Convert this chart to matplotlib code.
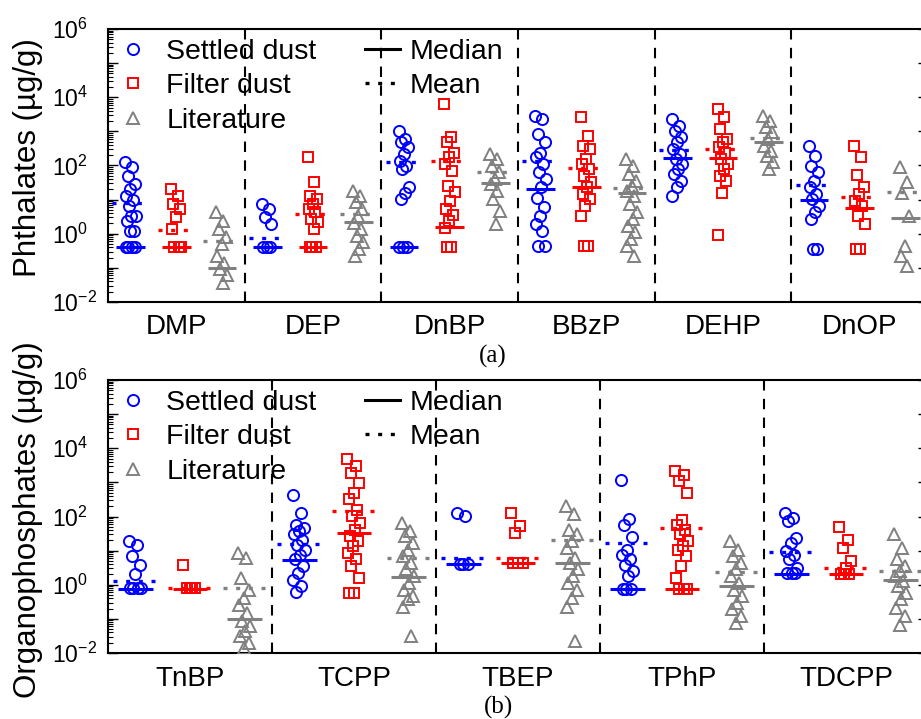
import numpy as np
import matplotlib
matplotlib.use("Agg")
import matplotlib.pyplot as plt
from matplotlib.lines import Line2D
from matplotlib.ticker import FixedLocator, FuncFormatter

plt.rcParams['font.family'] = ['Liberation Sans', 'DejaVu Sans']
plt.rcParams['mathtext.fontset'] = 'custom'
plt.rcParams['mathtext.rm'] = 'Liberation Sans'
plt.rcParams['mathtext.it'] = 'Liberation Sans:italic'
plt.rcParams['mathtext.default'] = 'regular'

# ---------------- Phthalates (µg/g) ----------------
pht_names = ["DMP", "DEP", "DnBP", "BBzP", "DEHP", "DnOP"]

pht_settled = [
    [123, 88, 50, 29, 20, 13, 10, 6.6, 3.4, 3.4, 2.4, 1.2, 1.2, 0.4, 0.4, 0.4, 0.4],
    [7.4, 5.3, 3.0, 1.9, 0.4, 0.4, 0.4],
    [1040, 590, 475, 340, 215, 138, 98, 78, 23, 16, 10.4, 0.4, 0.4, 0.4],
    [2900, 2300, 830, 475, 240, 173, 110, 63, 40, 23, 11.5, 5.9, 3.4, 1.9, 1.2, 0.45, 0.45],
    [2300, 1450, 1040, 665, 475, 300, 215, 155, 110, 78, 56, 36, 23, 13],
    [380, 195, 98, 63, 36, 23, 14.5, 10.4, 6.6, 4.2, 2.7, 0.35, 0.35],
]
pht_filter = [
    [20, 13, 7.4, 5.3, 3.0, 1.4, 0.4, 0.4, 0.4],
    [173, 33, 13, 10.4, 7.4, 5.3, 4.2, 2.7, 2.2, 1.4, 0.4, 0.4, 0.4],
    [6300, 665, 475, 240, 173, 110, 70, 25, 17, 9.3, 5.3, 3.5, 2.4, 1.5, 0.4, 0.4],
    [2560, 745, 380, 300, 155, 110, 78, 50, 32, 23, 14.5, 10.4, 6.6, 3.4, 0.45, 0.45],
    [4500, 2560, 1170, 590, 475, 340, 240, 155, 110, 78, 50, 36, 16, 0.93],
    [380, 173, 52, 23, 14.5, 9.3, 6.6, 3.4, 1.9, 0.35, 0.35],
]
pht_literature = [
    [4.2, 2.4, 1.4, 0.78, 0.5, 0.23, 0.14, 0.09, 0.06, 0.037],
    [18, 13, 8.3, 5.3, 3.4, 2.1, 1.4, 0.87, 0.56, 0.35, 0.23],
    [215, 155, 98, 63, 40, 29, 18, 10.4, 4.7, 1.9],
    [155, 98, 56, 36, 25, 18, 13, 7.4, 4.2, 2.7, 1.7, 1.1, 0.7, 0.45, 0.23],
    [2900, 2050, 1300, 930, 590, 380, 270, 195, 123, 78],
    [88, 32, 16, 3.4, 0.45, 0.23, 0.115],
]
pht_settled_median = [0.42, 0.42, 0.42, 21, 162, 10]
pht_settled_mean = [8.0, 0.73, 123, 132, 282, 26]
pht_filter_median = [0.42, 0.42, 1.6, 24, 162, 5.5]
pht_filter_mean = [1.3, 3.8, 138, 84, 300, 12]
pht_literature_median = [0.10, 2.2, 30, 16, 500, 2.9]
pht_literature_mean = [0.6, 3.8, 63, 22, 620, 17]

# ---------------- Organophosphates (µg/g) ----------------
opfr_names = ["TnBP", "TCPP", "TBEP", "TPhP", "TDCPP"]

opfr_settled = [
    [19, 15, 6.9, 3.9, 2.0, 0.78, 0.78, 0.78, 0.78],
    [440, 128, 58, 46, 37, 30, 21, 15, 10.7, 7.6, 5.5, 3.5, 2.2, 1.4, 0.9, 0.6],
    [128, 102, 4.1, 4.1, 4.1],
    [1200, 85, 55, 25, 10.7, 7.6, 5.5, 3.9, 2.5, 1.8, 0.77, 0.77, 0.77],
    [128, 91, 73, 24, 17, 9.6, 7.6, 5.5, 3.1, 2.2, 2.2, 2.2],
]
opfr_filter = [
    [3.9, 0.78, 0.78, 0.78, 0.78],
    [4700, 2970, 1900, 970, 490, 315, 160, 102, 65, 41, 26, 19, 13.5, 8.6, 5.5, 3.5, 1.6, 0.58, 0.58],
    [128, 52, 32, 4.2, 4.2, 4.2],
    [2140, 1700, 1090, 490, 81, 58, 41, 30, 19, 13.5, 10.7, 6.9, 3.5, 1.6, 0.77, 0.77, 0.77],
    [49, 21, 12, 4.9, 3.1, 2.1, 2.1, 2.1],
]
opfr_literature = [
    [8.6, 6.1, 1.6, 0.72, 0.41, 0.26, 0.15, 0.085, 0.06, 0.044, 0.031, 0.02, 0.014],
    [65, 37, 26, 17, 10.7, 6.9, 4.4, 2.8, 1.8, 1.1, 0.72, 0.46, 0.37, 0.23, 0.031],
    [200, 115, 41, 30, 19, 12, 6.1, 4.4, 2.8, 1.8, 1.1, 0.72, 0.41, 0.23, 0.022],
    [19, 10.7, 6.9, 4.4, 2.8, 1.8, 1.1, 0.72, 0.46, 0.29, 0.19, 0.12, 0.076],
    [30, 12, 5.5, 3.5, 2.5, 1.8, 1.27, 0.9, 0.58, 0.37, 0.21, 0.12, 0.068],
]
opfr_settled_median = [0.76, 5.2, 4.1, 0.77, 2.1]
opfr_settled_mean = [1.27, 16, 6.1, 17, 9.0]
opfr_filter_median = [0.76, 33, 4.2, 0.77, 2.1]
opfr_filter_mean = [0.79, 149, 6.0, 46, 3.0]
opfr_literature_median = [0.10, 1.7, 4.2, 0.95, 1.4]
opfr_literature_mean = [0.79, 5.9, 21, 2.4, 2.6]

# ---------------- styling ----------------
BLUE, RED, GRAY = (0, 0, 1), (1, 0, 0), (0.5, 0.5, 0.5)
series_style = [
    dict(marker='o', color=BLUE, ms=8.0, label='Settled dust'),
    dict(marker='s', color=RED, ms=6.6, label='Filter dust'),
    dict(marker='^', color=GRAY, ms=8.4, label='Literature'),
]
col_offset = [-1 / 3, 0.0, 1 / 3]
MEAN_LS = (0, (1.2, 2.6))

W, H = 921, 719
fig = plt.figure(figsize=(W / 100, H / 100), dpi=100)


def px_axes(left, top, right, bottom):
    return fig.add_axes([left / W, 1 - bottom / H, (right - left) / W, (bottom - top) / H])


def spread(n):
    # deterministic side-by-side spread for points within one column
    k = np.arange(n)
    return 0.04 * (((k * 0.618034) % 1.0) * 2 - 1)


def decade_label(v, pos):
    e = int(round(np.log10(v)))
    return r'$\mathdefault{10^{%d}}$' % e if e % 2 == 0 else ''


def draw_panel(ax, names, cols, medians, means):
    n = len(names)
    for j, (data, med, mean, st) in enumerate(zip(cols, medians, means, series_style)):
        for g in range(n):
            x0 = g + col_offset[j]
            vals = np.asarray(data[g], dtype=float)
            ax.plot(x0 + spread(len(vals)), vals, ls='none', marker=st['marker'],
                    mfc='none', mec=st['color'], ms=st['ms'], mew=1.4, zorder=3)
            ax.plot([x0 - 0.105, x0 + 0.105], [med[g], med[g]], color=st['color'],
                    lw=2.2, solid_capstyle='butt', zorder=4)
            ax.plot([x0 - 0.135, x0 + 0.135], [mean[g], mean[g]], color=st['color'],
                    lw=2.4, ls=MEAN_LS, dash_capstyle='butt', zorder=4)
    for g in range(1, n):
        ax.axvline(g - 0.5, color='k', lw=1.5, ls=(0, (5, 4)), zorder=2)

    ax.set_yscale('log')
    ax.set_ylim(1e-2, 1e6)
    ax.set_xlim(-0.5, n - 0.5)
    ax.yaxis.set_major_locator(FixedLocator([10.0 ** e for e in range(-2, 7)]))
    ax.yaxis.set_major_formatter(FuncFormatter(decade_label))
    ax.yaxis.set_minor_locator(FixedLocator(
        [m * 10.0 ** e for e in range(-2, 6) for m in range(2, 10)]))
    ax.tick_params(axis='y', which='both', direction='in', left=True, right=True,
                   labelsize=16.5, pad=40)
    ax.tick_params(axis='y', which='major', length=7.5, width=1.0)
    ax.tick_params(axis='y', which='minor', length=3.6, width=0.8)
    for lab in ax.get_yticklabels():
        lab.set_horizontalalignment('left')
    ax.set_xticks(range(n))
    ax.set_xticklabels(names, fontsize=20)
    ax.tick_params(axis='x', length=0, pad=9)
    for sp in ax.spines.values():
        sp.set_linewidth(1.5)

    marker_handles = [Line2D([], [], ls='none', marker=st['marker'], mfc='none',
                             mec=st['color'], ms=st['ms'], mew=1.4) for st in series_style]
    leg1 = ax.legend(marker_handles, [st['label'] for st in series_style],
                     loc='upper left', bbox_to_anchor=(0.013, 0.965), frameon=False,
                     fontsize=20.5, handlelength=1.0, handletextpad=0.68,
                     labelspacing=0.31, borderpad=0, borderaxespad=0)
    ax.add_artist(leg1)
    line_handles = [Line2D([], [], color='k', lw=2.2),
                    Line2D([], [], color='k', lw=2.4, ls=MEAN_LS)]
    ax.legend(line_handles, ['Median', 'Mean'], loc='upper left',
              bbox_to_anchor=(0.313, 0.965), frameon=False, fontsize=20.5,
              handlelength=1.23, handletextpad=0.35, labelspacing=0.31,
              borderpad=0, borderaxespad=0)


ax_a = px_axes(108, 29, 928, 302)
draw_panel(ax_a, pht_names, [pht_settled, pht_filter, pht_literature],
           [pht_settled_median, pht_filter_median, pht_literature_median],
           [pht_settled_mean, pht_filter_mean, pht_literature_mean])

ax_b = px_axes(108, 380, 928, 653)
draw_panel(ax_b, opfr_names, [opfr_settled, opfr_filter, opfr_literature],
           [opfr_settled_median, opfr_filter_median, opfr_literature_median],
           [opfr_settled_mean, opfr_filter_mean, opfr_literature_mean])

fig.text(28 / W, 1 - 158 / H, 'Phthalates (\u00b5g/g)', rotation=90,
         ha='center', va='center', fontsize=22.5)
fig.text(28 / W, 1 - 520 / H, 'Organophosphates (\u00b5g/g)', rotation=90,
         ha='center', va='center', fontsize=22.5)
fig.text(493 / W, 1 - 356 / H, '(a)', ha='center', va='center', fontsize=18,
         family=['Liberation Serif', 'DejaVu Serif'])
fig.text(498 / W, 1 - 707 / H, '(b)', ha='center', va='center', fontsize=18,
         family=['Liberation Serif', 'DejaVu Serif'])

fig.savefig('out.png', dpi=100)
